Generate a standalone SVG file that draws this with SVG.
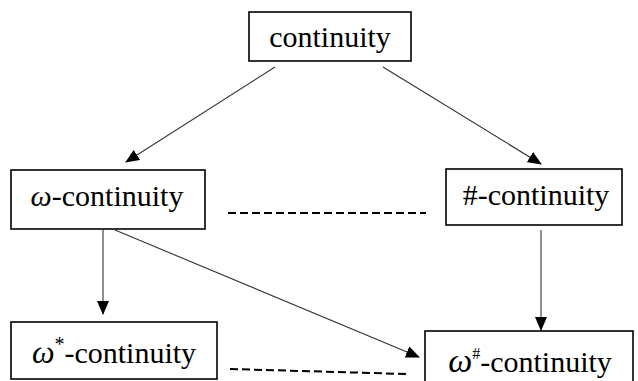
<svg xmlns="http://www.w3.org/2000/svg" width="638" height="381" viewBox="0 0 638 381">
<defs>
<marker id="ah" markerWidth="14" markerHeight="12" refX="13" refY="6" orient="auto" markerUnits="userSpaceOnUse">
<path d="M0,0 L14,6 L0,12 Z" fill="#000"/>
</marker>
</defs>
<style>
.box{fill:#fff;stroke:#000;stroke-width:1.6}
text{font-family:'Liberation Serif','Times New Roman',Tinos,'DejaVu Serif',serif;font-size:30px;fill:#000}
.w{font-style:italic}
.c{stroke:#333;stroke-width:1.1;fill:none}
.d{stroke:#000;stroke-width:2;stroke-dasharray:8 4;fill:none}
</style>
<rect width="638" height="381" fill="#fff"/>
<g id="connectors">
<line class="c" x1="275" y1="67" x2="126" y2="162" marker-end="url(#ah)"/>
<line class="c" x1="383" y1="67" x2="541" y2="164" marker-end="url(#ah)"/>
<line class="c" x1="103" y1="230" x2="103" y2="314" marker-end="url(#ah)"/>
<line class="c" x1="115" y1="230" x2="419" y2="357" marker-end="url(#ah)"/>
<line class="c" x1="541" y1="230" x2="541" y2="330" marker-end="url(#ah)"/>
<line class="d" x1="228" y1="213" x2="426" y2="213"/>
<line class="d" x1="230" y1="369" x2="407" y2="374"/>
</g>
<g id="n-continuity">
<rect class="box" x="249" y="12" width="162" height="49"/>
<text font-family="Liberation Serif, serif" x="330" y="47" text-anchor="middle">continuity</text>
</g>
<g id="n-omega">
<rect class="box" x="11" y="170" width="194" height="59"/>
<text font-family="Liberation Serif, serif" x="107" y="206" text-anchor="middle"><tspan class="w">ω</tspan>-continuity</text>
</g>
<g id="n-hash">
<rect class="box" x="446" y="169" width="176" height="56"/>
<text font-family="Liberation Serif, serif" x="536" y="205" text-anchor="middle">#-continuity</text>
</g>
<g id="n-omega-star">
<rect class="box" x="11" y="322" width="206" height="57"/>
<text font-family="Liberation Serif, serif" x="114" y="363" text-anchor="middle"><tspan class="w" font-size="32">ω</tspan><tspan font-size="20" dy="-12">*</tspan><tspan dy="12">-continuity</tspan></text>
</g>
<g id="n-omega-hash">
<rect class="box" x="425" y="331" width="208" height="60"/>
<text font-family="Liberation Serif, serif" x="530" y="372" text-anchor="middle" font-size="32"><tspan class="w" font-size="34">ω</tspan><tspan font-size="16" dy="-13">#</tspan><tspan dy="13">-continuity</tspan></text>
</g>
</svg>
